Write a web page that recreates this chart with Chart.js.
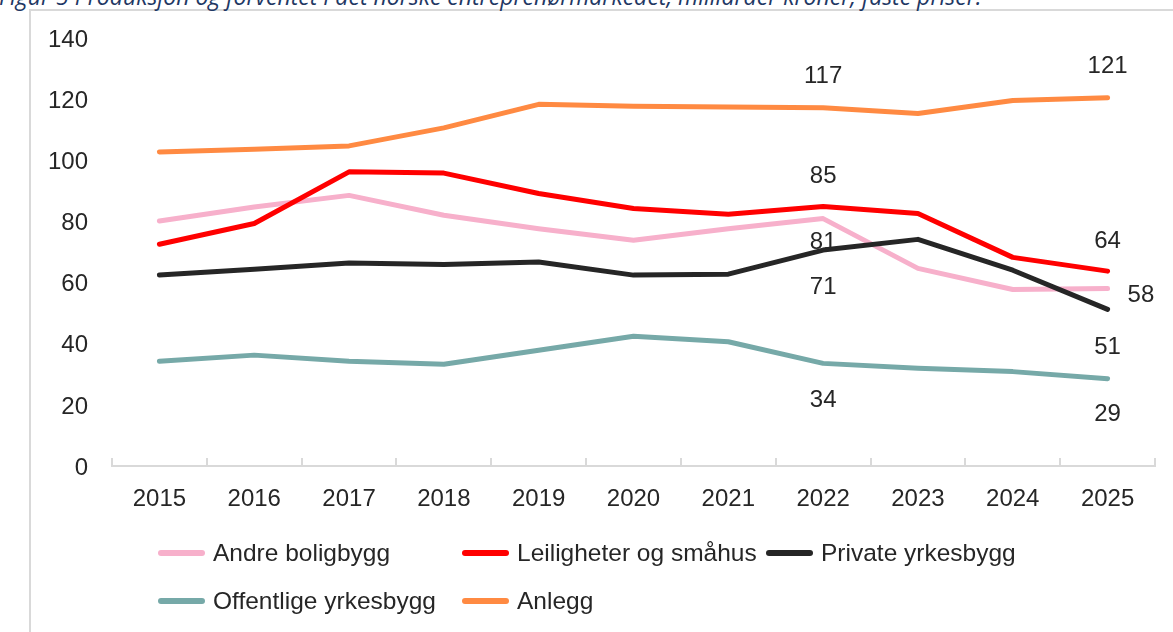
<!DOCTYPE html>
<html>
<head>
<meta charset="utf-8">
<script src="https://cdn.jsdelivr.net/npm/chart.js@4.4.1/dist/chart.umd.min.js"></script>
<style>
html, body { margin: 0; padding: 0; background: #fff; }
#wrap { position: relative; width: 1173px; height: 632px; overflow: hidden; }
#frame { position: absolute; left: 29px; top: 9px; width: 1200px; height: 700px; border: 2px solid #d9d9d9; box-sizing: border-box; }
#title { position: absolute; left: -1px; top: -15px; font: italic 23px 'Open Sans'; line-height: 23px; color: #1f3864; white-space: nowrap; }
#chart { position: absolute; left: 0; top: 0; }
.item { position: absolute; display: flex; align-items: center; height: 30px; font: 24.5px 'Liberation Sans', Arial, sans-serif; color: #262626; white-space: nowrap; }
.sw { width: 47px; height: 6px; border-radius: 3px; margin-right: 8px; }
</style>
</head>
<body>
<div id="wrap">
  <div id="frame"></div>
  <div id="title">Figur 5 Produksjon og forventet i det norske entreprenørmarkedet, milliarder kroner, faste priser.</div>
  <canvas id="chart" width="1173" height="632"></canvas>
  <div id="legend"></div>
</div>
<script>
// data (milliarder kroner, faste priser)
const years = ['2015', '2016', '2017', '2018', '2019', '2020', '2021', '2022', '2023', '2024', '2025'];
const seriesNames = ['Andre boligbygg', 'Leiligheter og småhus', 'Private yrkesbygg', 'Offentlige yrkesbygg', 'Anlegg'];
const andreBoligbygg = [80.2, 84.8, 88.6, 82.1, 77.7, 73.9, 77.7, 81.0, 64.7, 57.8, 58.1];
const leiligheter = [72.6, 79.4, 96.3, 95.9, 89.2, 84.3, 82.4, 85.0, 82.7, 68.3, 63.8];
const privateYrkesbygg = [62.5, 64.4, 66.5, 66.0, 66.8, 62.5, 62.8, 70.7, 74.2, 64.1, 51.3];
const offentligeYrkesbygg = [34.3, 36.3, 34.3, 33.3, 37.9, 42.5, 40.7, 33.6, 32.0, 30.9, 28.6];
const anlegg = [102.8, 103.7, 104.8, 110.7, 118.4, 117.8, 117.5, 117.3, 115.4, 119.7, 120.6];
const yTicks = [0, 20, 40, 60, 80, 100, 120, 140];
const labelledYears = ['2022', '2025'];

const colors = ['#f7b0cb', '#ff0000', '#262626', '#76a9a8', '#ff8a42'];
// label offsets per series for 2022 and 2025 [dx, dy]
const labelOffsets = [
  [[0, 24], [20, 7]],
  [[0, -30], [0, -30]],
  [[0, 37], [0, 38]],
  [[0, 37], [0, 36]],
  [[0, -31], [0, -31]]
];

const values = [andreBoligbygg, leiligheter, privateYrkesbygg, offentligeYrkesbygg, anlegg];
const font = "'Liberation Sans', Arial, sans-serif";

const pointLabels = {
  id: 'pointLabels',
  afterDatasetsDraw(chart) {
    const ctx = chart.ctx;
    ctx.save();
    ctx.font = '24px ' + font;
    ctx.fillStyle = '#262626';
    ctx.textBaseline = 'middle';
    chart.data.datasets.forEach((ds, i) => {
      const meta = chart.getDatasetMeta(i);
      labelledYears.forEach((yr, k) => {
        const idx = years.indexOf(yr);
        const pt = meta.data[idx];
        const [dx, dy] = labelOffsets[i][k];
        ctx.textAlign = dx > 0 ? 'left' : 'center';
        ctx.fillText(String(Math.round(ds.data[idx])), pt.x + dx, pt.y + dy);
      });
    });
    ctx.restore();
  }
};

new Chart(document.getElementById('chart'), {
  type: 'line',
  data: {
    labels: years,
    datasets: seriesNames.map((name, i) => ({
      label: name,
      data: values[i],
      borderColor: colors[i],
      backgroundColor: colors[i],
      borderWidth: 5,
      borderCapStyle: 'round',
      borderJoinStyle: 'round',
      pointRadius: 0,
      tension: 0,
      order: seriesNames.length - i
    }))
  },
  options: {
    responsive: false,
    animation: false,
    layout: { padding: { top: 38, right: 18, left: 0, bottom: 0 } },
    plugins: { legend: { display: false }, tooltip: { enabled: false } },
    scales: {
      x: {
        offset: true,
        afterFit: s => { s.height = 166; },
        grid: { display: true, drawOnChartArea: false, drawTicks: true, tickLength: -8, color: '#d9d9d9', lineWidth: 2, offset: true },
        border: { display: true, color: '#d9d9d9', width: 2 },
        ticks: { font: { family: font, size: 24 }, color: '#262626', padding: 27, maxRotation: 0 }
      },
      y: {
        min: 0,
        max: 140,
        afterFit: s => { s.width = 112; },
        afterBuildTicks: s => { s.ticks = yTicks.map(v => ({ value: v })); },
        grid: { display: false, drawTicks: false },
        border: { display: false },
        ticks: { font: { family: font, size: 24 }, color: '#262626', padding: 24, labelOffset: 2 }
      }
    }
  },
  plugins: [pointLabels]
});

// legend laid out like the original: three columns, two rows
const legend = document.getElementById('legend');
seriesNames.forEach((name, i) => {
  const el = document.createElement('div');
  el.className = 'item';
  el.style.left = (158 + (i % 3) * 304) + 'px';
  el.style.top = (538 + Math.floor(i / 3) * 48) + 'px';
  el.innerHTML = '<span class="sw" style="background:' + colors[i] + '"></span>' + name;
  legend.appendChild(el);
});
</script>
</body>
</html>
